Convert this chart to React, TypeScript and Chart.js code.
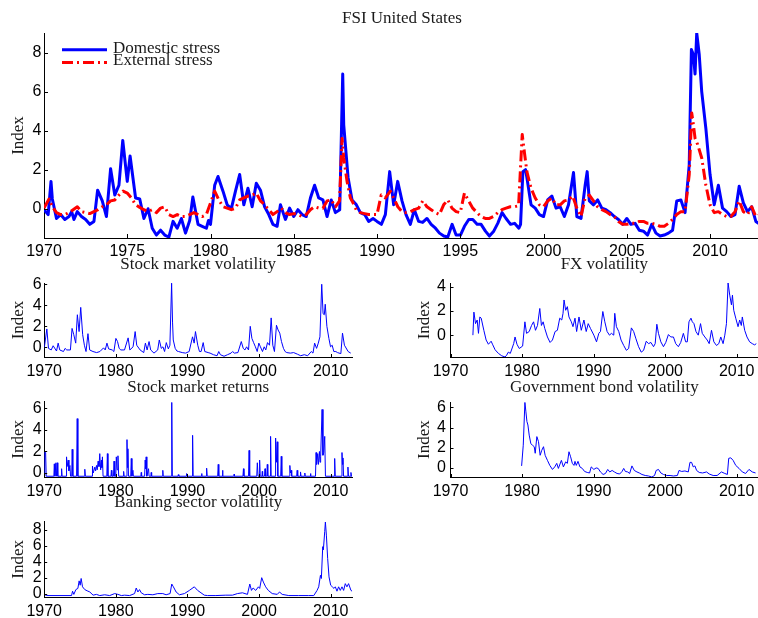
import React, { useEffect, useRef } from 'react';
import { Chart, registerables } from 'chart.js';

Chart.register(...registerables);

const SERIF = '"Liberation Serif", "Times New Roman", serif';
const SANS = '"Liberation Sans", Arial, Helvetica, sans-serif';
const TEXT = '#1a1a1a';
const AXIS = '#000000';
const BLUE = '#0000ff';
const RED = '#ff0000';

// ---------- text ----------
const mainTitle = 'FSI United States';
const legendLabels = ['Domestic stress', 'External stress'];
const yAxisLabel = 'Index';
const panelTitles = [
  'Stock market volatility',
  'FX volatility',
  'Stock market returns',
  'Government bond volatility',
  'Banking sector volatility',
];

// ---------- tick values ----------
const mainXTicks = [1970, 1975, 1980, 1985, 1990, 1995, 2000, 2005, 2010];
const mainYTicks = [0, 2, 4, 6, 8];
const panelXTicks = [1970, 1980, 1990, 2000, 2010];
const stockVolYTicks = [0, 2, 4, 6];
const fxVolYTicks = [0, 2, 4];
const stockRetYTicks = [0, 2, 4, 6];
const bondVolYTicks = [0, 2, 4, 6];
const bankVolYTicks = [0, 2, 4, 6, 8];

// ---------- series: [year, index] ----------
const domesticStress: [number, number][] = [
  [1970.0, -0.05], [1970.25, -0.3], [1970.42, 1.4], [1970.5, 0.5], [1970.75, -0.5], [1971.0, -0.3],
  [1971.25, -0.55], [1971.5, -0.4], [1971.66, -0.15], [1971.8, -0.55], [1972.0, -0.15], [1972.25, -0.4],
  [1972.5, -0.55], [1972.75, -0.8], [1973.0, -0.65], [1973.22, 0.95], [1973.5, 0.4], [1973.75, -0.4],
  [1974.0, 2.05], [1974.25, 0.7], [1974.5, 1.2], [1974.73, 3.5], [1975.0, 1.4], [1975.17, 2.7],
  [1975.5, 0.55], [1975.75, 0.5], [1976.0, -0.5], [1976.25, 0.0], [1976.5, -1.0], [1976.75, -1.35],
  [1977.0, -1.1], [1977.25, -1.35], [1977.5, -1.45], [1977.75, -0.65], [1978.0, -1.0], [1978.25, -0.5],
  [1978.5, -1.25], [1978.75, -0.6], [1978.94, 0.6], [1979.25, -0.8], [1979.5, -0.9], [1979.75, -1.0],
  [1979.88, -0.6], [1980.0, -0.8], [1980.25, 1.2], [1980.45, 1.65], [1980.75, 0.9], [1981.0, 0.2],
  [1981.25, 0.0], [1981.5, 0.9], [1981.75, 1.75], [1982.0, 0.2], [1982.25, 1.05], [1982.5, 0.1],
  [1982.75, 1.3], [1983.0, 0.95], [1983.25, 0.1], [1983.5, -0.3], [1983.75, -0.8], [1984.0, -0.9],
  [1984.2, 0.2], [1984.5, -0.55], [1984.75, 0.03], [1985.0, -0.4], [1985.25, -0.05], [1985.5, -0.3],
  [1985.75, -0.4], [1986.0, 0.55], [1986.25, 1.2], [1986.5, 0.55], [1986.75, 0.45], [1987.0, -0.4],
  [1987.25, 0.45], [1987.5, -0.2], [1987.76, -0.05], [1987.94, 6.9], [1988.0, 4.3], [1988.26, 1.6],
  [1988.5, 0.45], [1988.76, 0.2], [1989.0, -0.2], [1989.26, -0.3], [1989.5, -0.65], [1989.76, -0.5],
  [1990.0, -0.65], [1990.26, -0.8], [1990.5, -0.3], [1990.76, 1.9], [1991.0, 0.2], [1991.24, 1.4],
  [1991.5, 0.4], [1991.74, -0.3], [1992.0, -0.8], [1992.24, -0.05], [1992.5, -0.65], [1992.74, -0.7],
  [1993.0, -0.5], [1993.25, -0.8], [1993.51, -1.0], [1993.75, -1.25], [1994.01, -1.4], [1994.25, -1.45],
  [1994.51, -0.8], [1994.75, -1.35], [1995.01, -1.35], [1995.25, -0.9], [1995.51, -0.55], [1995.75, -0.55],
  [1996.01, -0.8], [1996.25, -0.8], [1996.51, -1.15], [1996.75, -1.4], [1997.01, -1.15], [1997.25, -0.75],
  [1997.51, -0.2], [1997.75, -0.5], [1998.02, -0.8], [1998.26, -0.75], [1998.52, -1.0], [1998.62, -0.8],
  [1998.76, 1.9], [1998.92, 2.0], [1999.0, 1.6], [1999.25, 0.2], [1999.5, 0.03], [1999.75, -0.3],
  [2000.0, -0.4], [2000.25, 0.45], [2000.5, 0.65], [2000.75, 0.03], [2001.0, 0.1], [2001.25, -0.4],
  [2001.5, 0.2], [2001.8, 1.85], [2002.0, -0.4], [2002.25, -0.5], [2002.5, 1.2], [2002.62, 1.9],
  [2002.75, 0.4], [2003.0, 0.2], [2003.25, 0.45], [2003.5, 0.03], [2003.75, -0.05], [2004.0, -0.2],
  [2004.25, -0.4], [2004.5, -0.55], [2004.75, -0.8], [2005.0, -0.5], [2005.25, -0.8], [2005.5, -0.75],
  [2005.75, -1.1], [2006.0, -1.15], [2006.25, -1.35], [2006.5, -0.8], [2006.75, -1.25], [2007.0, -1.4],
  [2007.25, -1.35], [2007.5, -1.25], [2007.75, -1.1], [2008.0, 0.4], [2008.25, 0.45], [2008.5, -0.2],
  [2008.75, 2.25], [2008.88, 8.15], [2009.0, 7.9], [2009.1, 6.9], [2009.2, 9.0], [2009.35, 7.9],
  [2009.5, 6.0], [2009.75, 4.1], [2010.0, 1.75], [2010.25, 0.2], [2010.5, 1.2], [2010.75, 0.03],
  [2011.0, -0.15], [2011.25, -0.4], [2011.5, -0.3], [2011.75, 1.15], [2012.0, 0.3], [2012.25, -0.15],
  [2012.5, 0.1], [2012.75, -0.65], [2013.0, -0.8],
];

const externalStress: [number, number][] = [
  [1970.0, 0.03], [1970.3, 0.5], [1970.5, 0.1], [1970.75, -0.2], [1971.0, -0.3], [1971.25, -0.3],
  [1971.5, -0.2], [1971.75, -0.05], [1972.0, 0.1], [1972.25, -0.15], [1972.5, -0.2], [1972.75, -0.25],
  [1973.0, -0.15], [1973.25, -0.05], [1973.5, 0.1], [1973.75, 0.2], [1974.0, 0.4], [1974.25, 0.45],
  [1974.5, 0.7], [1974.75, 0.9], [1975.0, 0.8], [1975.25, 0.55], [1975.5, 0.2], [1975.75, 0.07],
  [1976.0, -0.05], [1976.25, -0.15], [1976.5, -0.05], [1976.75, -0.2], [1977.0, 0.03], [1977.25, 0.1],
  [1977.5, -0.3], [1977.75, -0.4], [1978.0, -0.3], [1978.25, -0.4], [1978.5, -0.4], [1978.75, -0.3],
  [1979.0, -0.2], [1979.25, -0.3], [1979.5, -0.4], [1979.75, -0.3], [1980.0, 0.3], [1980.25, 0.9],
  [1980.5, 0.45], [1980.75, 0.1], [1981.0, 0.03], [1981.25, -0.05], [1981.5, 0.03], [1981.75, 0.45],
  [1982.0, 0.55], [1982.25, 0.65], [1982.5, 0.7], [1982.75, 0.8], [1983.0, 0.4], [1983.25, 0.2],
  [1983.5, -0.05], [1983.75, -0.3], [1984.0, -0.15], [1984.25, 0.03], [1984.5, -0.2], [1984.75, -0.3],
  [1985.0, -0.25], [1985.25, -0.3], [1985.5, -0.4], [1985.75, -0.3], [1986.0, -0.05], [1986.25, 0.1],
  [1986.5, 0.03], [1986.75, 0.03], [1987.0, 0.4], [1987.25, 0.45], [1987.5, 0.1], [1987.75, 0.4],
  [1987.9, 3.6], [1988.0, 2.6], [1988.2, 1.4], [1988.4, 0.55], [1988.5, 0.4], [1988.75, -0.05],
  [1989.0, -0.2], [1989.25, -0.25], [1989.5, -0.3], [1989.75, -0.3], [1990.0, -0.3], [1990.25, 0.7],
  [1990.5, 0.55], [1990.8, 0.9], [1991.25, 0.1], [1991.5, -0.15], [1991.75, -0.2], [1992.0, -0.15],
  [1992.25, -0.05], [1992.5, 0.03], [1992.75, 0.4], [1993.0, 0.1], [1993.25, -0.05], [1993.5, -0.2],
  [1993.75, -0.3], [1994.0, 0.2], [1994.25, 0.45], [1994.5, 0.03], [1994.75, -0.15], [1995.0, -0.2],
  [1995.25, 0.8], [1995.5, 0.4], [1995.75, 0.03], [1996.0, -0.2], [1996.25, -0.4], [1996.5, -0.5],
  [1996.75, -0.5], [1997.0, -0.4], [1997.25, -0.2], [1997.5, -0.05], [1997.75, 0.03], [1998.0, 0.1],
  [1998.25, 0.1], [1998.5, 0.15], [1998.72, 3.8], [1998.85, 2.9], [1999.0, 1.9], [1999.25, 1.05],
  [1999.5, 0.55], [1999.75, 0.2], [2000.0, 0.1], [2000.25, 0.4], [2000.5, 0.55], [2000.75, 0.2],
  [2001.0, 0.2], [2001.25, 0.4], [2001.5, 0.45], [2001.75, 0.65], [2002.0, 0.03], [2002.25, -0.4],
  [2002.5, 0.55], [2002.75, 0.7], [2003.0, 0.4], [2003.25, 0.1], [2003.5, -0.05], [2003.75, -0.15],
  [2004.0, -0.3], [2004.25, -0.4], [2004.5, -0.65], [2004.75, -0.8], [2005.0, -0.8], [2005.25, -0.75],
  [2005.5, -0.75], [2005.75, -0.65], [2006.0, -0.65], [2006.25, -0.75], [2006.5, -0.75], [2006.75, -0.8],
  [2007.0, -0.9], [2007.25, -0.9], [2007.5, -0.75], [2007.75, -0.55], [2008.0, -0.3], [2008.25, -0.15],
  [2008.5, -0.15], [2008.75, 1.75], [2008.9, 4.9], [2009.0, 4.3], [2009.1, 3.6], [2009.25, 3.3],
  [2009.5, 2.6], [2009.75, 1.2], [2010.0, 0.2], [2010.25, -0.2], [2010.5, -0.15], [2010.75, -0.3],
  [2011.0, -0.4], [2011.25, -0.4], [2011.5, -0.15], [2011.75, 0.4], [2012.0, -0.15], [2012.25, -0.3],
  [2012.5, 0.1], [2012.75, -0.4], [2013.0, -0.3],
];

const stockMarketVolatility: [number, number][] = [
  [1970.0, -0.1], [1970.37, 1.75], [1970.6, -0.1], [1970.98, -0.25], [1971.25, 0.15], [1971.72, -0.35],
  [1971.95, 0.4], [1972.17, -0.25], [1972.69, -0.4], [1972.92, -0.1], [1973.15, -0.25], [1973.66, -0.25],
  [1973.89, 1.8], [1974.13, 1.2], [1974.4, 0.4], [1974.63, 3.1], [1974.87, 1.5], [1975.1, 3.8],
  [1975.37, 1.2], [1975.61, 0.2], [1975.84, -0.4], [1976.11, 1.3], [1976.35, -0.25], [1976.81, -0.4],
  [1977.32, -0.5], [1977.78, -0.4], [1978.29, -0.05], [1978.52, -0.25], [1978.76, 0.4], [1979.0, -0.15],
  [1979.5, -0.25], [1979.73, -0.4], [1980.01, 0.85], [1980.24, 0.55], [1980.47, -0.1], [1980.7, -0.25],
  [1981.21, -0.25], [1981.72, 0.9], [1981.96, -0.25], [1982.41, 0.05], [1982.7, 1.5], [1982.92, 0.2],
  [1983.39, -0.25], [1983.9, -0.5], [1984.13, 0.4], [1984.37, -0.25], [1984.64, 0.55], [1984.87, -0.25],
  [1985.33, -0.55], [1985.85, -0.25], [1986.07, 0.7], [1986.35, -0.1], [1986.58, 0.05], [1986.81, -0.4],
  [1987.05, 0.45], [1987.33, -0.15], [1987.55, 0.2], [1987.79, 6.1], [1987.92, 2.4], [1988.02, 0.7],
  [1988.29, -0.1], [1988.53, -0.35], [1988.76, -0.4], [1989.27, -0.5], [1989.74, -0.55], [1990.24, -0.4],
  [1990.71, 1.0], [1990.94, 0.4], [1991.12, 1.5], [1991.44, 0.2], [1991.68, -0.4], [1991.91, -0.4],
  [1992.2, 0.45], [1992.42, -0.4], [1992.89, -0.5], [1993.16, -0.55], [1993.63, -0.7], [1994.14, -0.8],
  [1994.37, -0.4], [1994.6, -0.7], [1995.11, -0.85], [1995.6, -0.7], [1996.09, -0.55], [1996.31, -0.4],
  [1996.55, -0.55], [1997.05, -0.5], [1997.52, 0.55], [1997.79, -0.1], [1998.03, -0.25], [1998.26, 0.05],
  [1998.53, -0.25], [1998.77, 2.0], [1999.0, 0.85], [1999.24, 0.45], [1999.49, 0.05], [1999.74, -0.4],
  [1999.97, 0.4], [2000.19, 0.05], [2000.48, -0.4], [2000.72, 0.05], [2000.94, -0.25], [2001.18, 0.45],
  [2001.46, 0.2], [2001.69, 2.8], [2001.92, 0.2], [2002.15, -0.4], [2002.43, 2.1], [2002.66, 1.65],
  [2002.89, 1.35], [2003.13, 0.55], [2003.41, -0.1], [2003.64, -0.4], [2003.87, -0.5], [2004.37, -0.55],
  [2004.83, -0.5], [2005.35, -0.65], [2005.81, -0.8], [2006.32, -0.7], [2006.78, -0.8], [2007.29, -0.4],
  [2007.53, -0.55], [2007.76, 0.4], [2008.03, -0.1], [2008.27, 0.4], [2008.5, 1.0], [2008.75, 6.0],
  [2008.94, 3.2], [2009.11, 3.1], [2009.24, 4.1], [2009.47, 2.0], [2009.75, 0.85], [2009.98, 0.05],
  [2010.21, 0.2], [2010.44, -0.4], [2010.72, -0.4], [2010.95, -0.5], [2011.42, -0.6], [2011.65, 1.35],
  [2011.92, 0.2], [2012.44, -0.4], [2012.8, -0.55],
];

const fxVolatility: [number, number][] = [
  [1973.13, 0.0], [1973.27, 1.9], [1973.5, 0.95], [1973.73, 1.25], [1973.91, 0.15], [1974.1, 1.5],
  [1974.29, 1.4], [1974.66, 0.4], [1974.98, -0.4], [1975.3, -0.75], [1975.68, -0.5], [1975.91, -0.8],
  [1976.23, -1.2], [1976.69, -1.5], [1977.16, -1.7], [1977.62, -1.8], [1977.85, -1.65], [1978.08, -1.4],
  [1978.36, -1.5], [1978.83, -0.7], [1979.02, -0.15], [1979.29, -0.75], [1979.61, -1.1], [1980.08, -0.9],
  [1980.4, 1.1], [1980.63, 0.15], [1981.0, 0.3], [1981.33, 0.8], [1981.61, 1.1], [1981.88, 0.4],
  [1982.16, 0.8], [1982.48, 2.2], [1982.71, 0.8], [1982.95, 1.1], [1983.18, 0.55], [1983.55, -0.15],
  [1983.92, -0.6], [1984.25, -0.4], [1984.62, 0.3], [1984.94, 0.4], [1985.27, 1.4], [1985.55, 1.25],
  [1985.73, 1.8], [1985.87, 2.9], [1986.1, 2.05], [1986.33, 2.35], [1986.56, 1.5], [1986.89, 1.1],
  [1987.12, 0.7], [1987.4, 1.4], [1987.63, 0.3], [1987.96, 1.5], [1988.28, 0.4], [1988.65, 1.25],
  [1988.97, 0.3], [1989.25, 0.95], [1989.57, 0.55], [1990.04, 0.0], [1990.41, -0.55], [1990.73, 0.15],
  [1990.96, 0.3], [1991.29, 1.95], [1991.57, 1.1], [1991.89, 0.3], [1992.22, 0.0], [1992.49, 0.15],
  [1992.82, 0.0], [1992.96, 1.8], [1993.19, 0.7], [1993.52, 0.3], [1993.84, -0.4], [1994.21, -0.85],
  [1994.58, -1.25], [1994.9, -1.1], [1995.28, 0.6], [1995.6, 0.3], [1995.92, -0.3], [1996.29, -0.95],
  [1996.66, -1.4], [1996.99, -1.25], [1997.36, -0.5], [1997.68, -0.7], [1998.01, -0.6], [1998.38, -0.95],
  [1998.61, -0.7], [1998.84, 0.9], [1999.07, 0.15], [1999.4, -0.55], [1999.77, -0.95], [2000.09, -0.6],
  [2000.46, 0.05], [2000.79, -0.15], [2001.16, -0.15], [2001.48, -0.7], [2001.85, -0.95], [2002.18, -0.6],
  [2002.55, 0.15], [2002.87, -0.55], [2003.1, -0.55], [2003.33, 1.1], [2003.61, 1.4], [2003.8, 1.1],
  [2004.03, 0.95], [2004.31, 0.3], [2004.63, 0.0], [2004.95, 0.95], [2005.19, 0.15], [2005.55, -0.15],
  [2005.88, -0.4], [2006.16, -0.7], [2006.48, 0.4], [2006.81, -0.55], [2007.18, -0.85], [2007.5, -0.7],
  [2007.78, -0.15], [2008.1, -0.7], [2008.34, 0.0], [2008.57, 0.95], [2008.8, 4.3], [2009.03, 3.3],
  [2009.27, 2.5], [2009.41, 3.3], [2009.59, 2.05], [2009.87, 1.4], [2010.19, 0.7], [2010.42, 1.25],
  [2010.65, 0.8], [2010.79, 1.5], [2011.12, 0.4], [2011.44, -0.15], [2011.81, -0.55], [2012.18, -0.7],
  [2012.51, -0.8], [2012.74, -0.7],
];

const stockMarketReturns: [number, number][] = [
  [1970.0, -0.3], [1970.08, 1.95], [1970.2, 1.9], [1970.28, -0.3],
  [1971.35, -0.3], [1971.41, 0.85], [1971.5, -0.3], [1971.64, 0.95], [1971.72, -0.3], [1971.83, 0.95], [1971.9, -0.3],
  [1972.37, -0.3], [1972.43, 0.4], [1972.5, -0.3],
  [1973.05, -0.3], [1973.12, 1.5], [1973.2, 0.6], [1973.35, 1.2], [1973.45, 0.2], [1973.59, 0.7], [1973.68, -0.3],
  [1973.84, -0.3], [1973.91, 2.2], [1974.0, -0.3],
  [1974.52, -0.3], [1974.61, 5.05], [1974.7, -0.3],
  [1975.6, -0.3], [1975.67, 0.35], [1975.75, -0.3],
  [1976.68, -0.3], [1976.74, 0.65], [1976.85, 0.0], [1977.07, 0.55], [1977.18, 0.2], [1977.3, 0.7], [1977.4, 0.3],
  [1977.53, 1.1], [1977.65, 0.6], [1977.76, 1.8], [1977.88, 0.3], [1977.99, 1.2], [1978.06, 0.5], [1978.13, 1.5], [1978.22, -0.3],
  [1978.74, -0.3], [1978.82, 1.8], [1978.9, -0.3],
  [1979.32, -0.3], [1979.38, 0.25], [1979.45, -0.3],
  [1979.67, -0.3], [1979.75, 1.1], [1979.85, -0.3], [1980.0, -0.3], [1980.07, 1.5], [1980.18, 0.3], [1980.3, 1.6], [1980.4, -0.3],
  [1981.02, -0.3], [1981.09, 0.15], [1981.16, -0.3],
  [1981.48, -0.3], [1981.56, 3.1], [1981.62, 0.5], [1981.69, 2.25], [1981.77, -0.3],
  [1982.08, -0.3], [1982.16, 1.35], [1982.25, -0.3], [1982.39, 0.25], [1982.46, -0.3],
  [1983.5, -0.3], [1983.55, 0.05], [1983.6, -0.3],
  [1984.02, -0.3], [1984.1, 1.2], [1984.17, 0.4], [1984.24, 1.5], [1984.33, -0.3], [1984.57, 0.4], [1984.64, -0.3],
  [1984.9, -0.3], [1984.94, 0.05], [1985.0, -0.3],
  [1986.5, -0.3], [1986.56, 0.25], [1986.62, -0.3],
  [1987.73, -0.3], [1987.81, 6.55], [1987.89, -0.3],
  [1988.68, -0.3], [1988.73, -0.15], [1988.8, -0.3],
  [1989.85, -0.3], [1989.89, -0.05], [1989.95, -0.3],
  [1990.64, -0.3], [1990.72, 3.5], [1990.8, -0.3],
  [1991.93, -0.3], [1991.98, -0.05], [1992.03, -0.3],
  [1992.6, -0.3], [1992.68, 0.45], [1992.76, -0.3],
  [1994.22, -0.3], [1994.3, 0.8], [1994.38, -0.3],
  [1994.84, -0.3], [1994.9, 0.25], [1994.96, -0.3],
  [1996.47, -0.3], [1996.52, -0.1], [1996.57, -0.3],
  [1997.75, -0.3], [1997.82, 0.4], [1997.89, -0.3],
  [1998.53, -0.3], [1998.61, 2.1], [1998.69, -0.3],
  [1999.68, -0.3], [1999.76, 0.95], [1999.86, -0.3], [2000.0, -0.3], [2000.08, 1.2], [2000.16, -0.3],
  [2000.41, -0.3], [2000.45, 0.15], [2000.5, -0.3], [2000.76, -0.3], [2000.83, 0.4], [2000.9, -0.3],
  [2001.08, -0.3], [2001.15, 0.8], [2001.22, -0.3],
  [2001.53, -0.3], [2001.61, 3.4], [2001.69, -0.3],
  [2002.23, -0.3], [2002.31, 3.25], [2002.43, 1.0], [2002.54, 2.9], [2002.62, -0.3],
  [2003.02, -0.3], [2003.1, 1.55], [2003.18, -0.3],
  [2004.22, -0.3], [2004.3, 0.7], [2004.38, 0.0], [2004.49, 0.25], [2004.56, -0.3],
  [2005.25, -0.3], [2005.32, 0.25], [2005.4, -0.3], [2005.72, -0.3], [2005.79, 0.1], [2005.86, -0.3],
  [2006.33, -0.3], [2006.39, 0.0], [2006.45, -0.3],
  [2007.12, -0.3], [2007.18, -0.05], [2007.24, -0.3],
  [2007.88, -0.3], [2007.96, 1.9], [2008.04, 0.8], [2008.19, 1.8], [2008.3, 0.8], [2008.43, 2.0], [2008.52, 1.0],
  [2008.6, 1.5], [2008.8, 5.9], [2008.92, 1.65], [2009.03, 1.9], [2009.17, 3.4], [2009.27, -0.3],
  [2010.48, -0.3], [2010.56, 1.35], [2010.64, -0.3],
  [2011.5, -0.3], [2011.58, 1.9], [2011.65, 0.8], [2011.72, 1.4], [2011.8, -0.3],
  [2012.33, -0.3], [2012.41, 0.55], [2012.49, -0.3],
  [2012.78, -0.3], [2012.83, 0.05], [2012.9, -0.3], [2013.0, -0.3],
];

const governmentBondVolatility: [number, number][] = [
  [1979.94, 0.2], [1980.17, 2.25], [1980.4, 6.5], [1980.54, 5.55], [1980.68, 4.6], [1980.82, 4.25],
  [1981.0, 3.25], [1981.23, 2.4], [1981.46, 2.25], [1981.7, 2.1], [1981.84, 1.45], [1982.07, 3.1],
  [1982.3, 2.6], [1982.53, 1.25], [1982.76, 1.75], [1983.0, 2.1], [1983.23, 1.25], [1983.55, 0.75],
  [1983.88, 0.25], [1984.25, -0.15], [1984.57, 0.1], [1984.85, 0.45], [1985.08, -0.05], [1985.5, 0.75],
  [1985.78, 0.1], [1986.1, 0.6], [1986.33, 0.45], [1986.56, 1.6], [1986.79, 1.1], [1987.03, 0.45],
  [1987.26, 0.25], [1987.4, 0.65], [1987.58, 0.25], [1987.82, 0.65], [1988.09, 0.1], [1988.42, -0.05],
  [1988.74, -0.35], [1989.11, -0.45], [1989.44, -0.5], [1989.67, 0.1], [1990.04, -0.15], [1990.36, 0.0],
  [1990.64, -0.05], [1990.96, -0.4], [1991.33, -0.65], [1991.66, -0.55], [1991.98, -0.15], [1992.26, -0.4],
  [1992.59, -0.25], [1992.91, -0.4], [1993.28, -0.55], [1993.65, -0.6], [1993.98, -0.35], [1994.21, -0.05],
  [1994.44, -0.35], [1994.76, -0.4], [1995.04, -0.55], [1995.36, 0.2], [1995.69, -0.25], [1996.06, -0.4],
  [1996.39, -0.5], [1996.76, -0.65], [1997.22, -0.75], [1997.68, -0.8], [1998.14, -0.9], [1998.52, -0.75],
  [1998.75, -0.25], [1999.07, -0.15], [1999.4, -0.5], [1999.77, -0.65], [2000.23, -0.75], [2000.69, -0.75],
  [2001.15, -0.8], [2001.71, -0.75], [2001.94, -0.25], [2002.31, -0.35], [2002.77, -0.3], [2003.24, -0.4],
  [2003.47, 0.55], [2003.7, 0.55], [2003.93, 0.1], [2004.16, 0.2], [2004.4, -0.25], [2004.77, -0.45],
  [2005.24, -0.5], [2005.79, -0.4], [2006.16, -0.6], [2006.71, -0.75], [2007.27, -0.75], [2007.87, -0.4],
  [2008.34, -0.55], [2008.7, -0.65], [2008.89, 0.95], [2009.17, 1.0], [2009.5, 0.75], [2009.87, 0.25],
  [2010.33, -0.05], [2010.79, -0.4], [2011.25, -0.55], [2011.72, -0.15], [2012.18, -0.4], [2012.64, -0.5],
];

const bankingSectorVolatility: [number, number][] = [
  [1970.0, -0.1], [1970.34, -0.25], [1973.82, -0.25], [1973.96, 0.3], [1974.14, -0.1], [1974.42, 0.5],
  [1974.7, 0.65], [1974.88, 1.6], [1975.02, 1.05], [1975.16, 1.9], [1975.35, 0.85], [1975.67, 0.5],
  [1976.0, 0.35], [1976.37, 0.2], [1976.83, -0.2], [1977.29, -0.1], [1977.76, -0.25], [1978.45, -0.15],
  [1979.14, -0.25], [1979.84, 0.0], [1980.3, -0.1], [1980.77, -0.25], [1981.23, -0.2], [1981.93, -0.25],
  [1982.62, 0.0], [1982.85, 0.7], [1983.08, 0.2], [1983.31, 0.5], [1983.55, 0.1], [1984.01, -0.15],
  [1984.47, -0.1], [1985.17, -0.15], [1985.86, 0.0], [1986.56, 0.0], [1987.02, -0.15], [1987.58, 0.0],
  [1987.81, 1.2], [1988.04, 0.85], [1988.42, 0.2], [1988.88, -0.15], [1989.58, 0.0], [1990.27, 0.4],
  [1990.96, 0.85], [1991.42, 0.4], [1991.89, 0.1], [1992.35, -0.2], [1992.81, -0.25], [1993.97, -0.25],
  [1995.36, -0.2], [1996.29, -0.2], [1996.98, 0.0], [1997.68, 0.1], [1998.38, -0.1], [1998.71, 1.2],
  [1998.94, 0.4], [1999.17, 0.7], [1999.54, 0.4], [1999.91, 0.85], [2000.09, 0.65], [2000.37, 2.0],
  [2000.6, 1.45], [2000.92, 0.85], [2001.29, 0.4], [2001.84, 0.0], [2002.54, -0.1], [2002.86, 0.2],
  [2003.23, -0.1], [2004.15, -0.25], [2005.54, -0.25], [2006.93, -0.25], [2007.64, -0.25], [2008.1, 0.4],
  [2008.33, 0.85], [2008.57, 2.3], [2008.7, 1.9], [2008.89, 5.9], [2008.98, 5.5], [2009.17, 7.8],
  [2009.26, 9.0], [2009.4, 7.35], [2009.58, 4.4], [2009.77, 2.1], [2010.0, 1.05], [2010.23, 0.85],
  [2010.46, 0.65], [2010.65, 0.85], [2010.88, 0.3], [2011.11, 0.85], [2011.34, 0.4], [2011.58, 0.85],
  [2011.81, 0.4], [2012.04, 1.25], [2012.27, 0.85], [2012.5, 1.25], [2012.83, 0.4], [2013.0, 0.3],
];

// ---------- plugins ----------
const inwardTicks = {
  id: 'inwardTicks',
  afterDraw(chart: any, _args: any, opts: any) {
    const { ctx, chartArea } = chart;
    const len = opts && opts.len ? opts.len : 4;
    const xs = chart.scales.x;
    const ys = chart.scales.y;
    ctx.save();
    ctx.strokeStyle = AXIS;
    ctx.lineWidth = 1;
    ctx.setLineDash([]);
    ctx.beginPath();
    xs.ticks.forEach((t: any) => {
      const px = Math.round(xs.getPixelForValue(t.value)) + 0.5;
      ctx.moveTo(px, chartArea.bottom);
      ctx.lineTo(px, chartArea.bottom - len);
    });
    ys.ticks.forEach((t: any) => {
      const py = Math.round(ys.getPixelForValue(t.value)) + 0.5;
      ctx.moveTo(chartArea.left, py);
      ctx.lineTo(chartArea.left + len, py);
    });
    ctx.stroke();
    ctx.restore();
  },
};

const stressLegend = {
  id: 'stressLegend',
  afterDatasetsDraw(chart: any) {
    const { ctx, chartArea } = chart;
    const rows = [
      { label: legendLabels[0], lineY: chartArea.top + 16.7, textY: chartArea.top + 15.6 },
      { label: legendLabels[1], lineY: chartArea.top + 29.4, textY: chartArea.top + 28.0 },
    ];
    ctx.save();
    rows.forEach((r) => {
      const ds = chart.data.datasets.find((d: any) => d.label === r.label);
      if (!ds) return;
      ctx.beginPath();
      ctx.strokeStyle = ds.borderColor;
      ctx.lineWidth = ds.borderWidth;
      ctx.lineCap = 'butt';
      ctx.setLineDash(ds.borderDash || []);
      ctx.moveTo(chartArea.left + 18, r.lineY);
      ctx.lineTo(chartArea.left + 63, r.lineY);
      ctx.stroke();
      ctx.setLineDash([]);
      ctx.fillStyle = TEXT;
      ctx.font = `17px ${SERIF}`;
      ctx.textAlign = 'left';
      ctx.textBaseline = 'middle';
      ctx.fillText(r.label, chartArea.left + 69, r.textY);
    });
    ctx.restore();
  },
};

// ---------- panel specs (layout only) ----------
type Series = { label: string; data: [number, number][]; color: string; width: number; dash?: number[]; order?: number };
type Spec = {
  key: string;
  left: number; top: number; width: number; height: number;
  title: string; titlePad: [number, number];
  yWidth: number; xHeight: number; yTitlePad: number;
  yMin: number; yMax: number; yTicks: number[];
  xTicks: number[]; xPad: number; yPad: number; tickLen: number;
  series: Series[]; legend?: boolean;
};

const specs: Spec[] = [
  {
    key: 'main', left: 0, top: 0, width: 760, height: 262,
    title: mainTitle, titlePad: [8.4, 4.2], yWidth: 44, xHeight: 24, yTitlePad: 8.1,
    yMin: -1.5, yMax: 9, yTicks: mainYTicks, xTicks: mainXTicks, xPad: 4.4, yPad: 2.5, tickLen: 4,
    series: [
      { label: legendLabels[0], data: domesticStress, color: BLUE, width: 3, order: 1 },
      { label: legendLabels[1], data: externalStress, color: RED, width: 3, dash: [11, 4, 2, 4], order: 0 },
    ],
    legend: true,
  },
  {
    key: 'stockVol', left: 0, top: 250, width: 354, height: 131,
    title: panelTitles[0], titlePad: [4.4, 8.2], yWidth: 44.2, xHeight: 24, yTitlePad: 8.1,
    yMin: -0.92, yMax: 6.12, yTicks: stockVolYTicks, xTicks: panelXTicks, xPad: 5.4, yPad: 2.5, tickLen: 3,
    series: [{ label: panelTitles[0], data: stockMarketVolatility, color: BLUE, width: 1 }],
  },
  {
    key: 'fxVol', left: 406, top: 250, width: 354, height: 131,
    title: panelTitles[1], titlePad: [4.4, 8.2], yWidth: 44.5, xHeight: 24, yTitlePad: 8.5,
    yMin: -1.8, yMax: 4.3, yTicks: fxVolYTicks, xTicks: panelXTicks, xPad: 5.4, yPad: 4.5, tickLen: 3,
    series: [{ label: panelTitles[1], data: fxVolatility, color: BLUE, width: 1 }],
  },
  {
    key: 'stockRet', left: 0, top: 370, width: 354, height: 131,
    title: panelTitles[2], titlePad: [7.8, 3.5], yWidth: 44.2, xHeight: 24, yTitlePad: 8.1,
    yMin: -0.37, yMax: 6.62, yTicks: stockRetYTicks, xTicks: panelXTicks, xPad: 5.4, yPad: 2.5, tickLen: 3,
    series: [{ label: panelTitles[2], data: stockMarketReturns, color: BLUE, width: 1 }],
  },
  {
    key: 'bondVol', left: 406, top: 370, width: 354, height: 131,
    title: panelTitles[3], titlePad: [7.8, 4.1], yWidth: 44.5, xHeight: 24, yTitlePad: 8.5,
    yMin: -0.9, yMax: 6.5, yTicks: bondVolYTicks, xTicks: panelXTicks, xPad: 5.4, yPad: 4.5, tickLen: 3,
    series: [{ label: panelTitles[3], data: governmentBondVolatility, color: BLUE, width: 1 }],
  },
  {
    key: 'bankVol', left: 0, top: 485, width: 354, height: 136,
    title: panelTitles[4], titlePad: [7.8, 8.5], yWidth: 44.2, xHeight: 24, yTitlePad: 8.1,
    yMin: -0.43, yMax: 9.04, yTicks: bankVolYTicks, xTicks: panelXTicks, xPad: 5.4, yPad: 2.5, tickLen: 3,
    series: [{ label: panelTitles[4], data: bankingSectorVolatility, color: BLUE, width: 1 }],
  },
];

const X_MIN = 1970;
const X_MAX = 2013;

function buildConfig(spec: Spec): any {
  return {
    type: 'line',
    data: {
      datasets: spec.series.map((s) => ({
        label: s.label,
        data: s.data.map(([x, y]) => ({ x, y })),
        borderColor: s.color,
        backgroundColor: s.color,
        borderWidth: s.width,
        borderDash: s.dash || [],
        borderCapStyle: 'butt',
        borderJoinStyle: 'round',
        pointRadius: 0,
        pointHoverRadius: 0,
        fill: false,
        tension: 0,
        order: s.order ?? 0,
      })),
    },
    options: {
      animation: false,
      responsive: false,
      maintainAspectRatio: false,
      devicePixelRatio: 1,
      events: [],
      layout: { padding: 0, autoPadding: false },
      plugins: {
        legend: { display: false },
        tooltip: { enabled: false },
        title: {
          display: true,
          text: spec.title,
          fullSize: false,
          color: TEXT,
          font: { family: SERIF, size: 17, weight: 'normal', lineHeight: 1.2 },
          padding: { top: spec.titlePad[0], bottom: spec.titlePad[1] },
        },
        inwardTicks: { len: spec.tickLen },
      },
      scales: {
        x: {
          type: 'linear',
          position: 'bottom',
          min: X_MIN,
          max: X_MAX,
          afterBuildTicks: (s: any) => { s.ticks = spec.xTicks.map((v) => ({ value: v })); },
          afterFit: (s: any) => { s.height = spec.xHeight; },
          grid: { display: false, drawTicks: false },
          border: { display: true, color: AXIS, width: 1 },
          ticks: {
            autoSkip: false, maxRotation: 0, minRotation: 0, padding: spec.xPad, color: '#000',
            font: { family: SANS, size: 16 },
            callback: (v: any) => String(v),
          },
        },
        y: {
          type: 'linear',
          position: 'left',
          min: spec.yMin,
          max: spec.yMax,
          afterBuildTicks: (s: any) => { s.ticks = spec.yTicks.map((v) => ({ value: v })); },
          afterFit: (s: any) => { s.width = spec.yWidth; },
          grid: { display: false, drawTicks: false },
          border: { display: true, color: AXIS, width: 1 },
          ticks: {
            autoSkip: false, padding: spec.yPad, color: '#000',
            font: { family: SANS, size: 16 },
            callback: (v: any) => String(v),
          },
          title: {
            display: true,
            text: yAxisLabel,
            color: TEXT,
            font: { family: SERIF, size: 17, weight: 'normal', lineHeight: 1.2 },
            padding: { top: spec.yTitlePad, bottom: 0 },
          },
        },
      },
    },
    plugins: spec.legend ? [inwardTicks, stressLegend] : [inwardTicks],
  };
}

function Panel({ spec }: { spec: Spec }) {
  const ref = useRef<HTMLCanvasElement | null>(null);
  useEffect(() => {
    if (!ref.current) return;
    const chart = new Chart(ref.current, buildConfig(spec));
    return () => chart.destroy();
  }, [spec]);
  return (
    <canvas
      ref={ref}
      width={spec.width}
      height={spec.height}
      style={{ position: 'absolute', left: spec.left, top: spec.top, width: spec.width, height: spec.height, display: 'block' }}
    />
  );
}

export default function App() {
  return (
    <div
      style={{
        position: 'fixed', left: 0, top: 0, width: 758, height: 618,
        overflow: 'hidden', background: '#ffffff',
      }}
    >
      {specs.map((s) => (
        <Panel key={s.key} spec={s} />
      ))}
    </div>
  );
}
